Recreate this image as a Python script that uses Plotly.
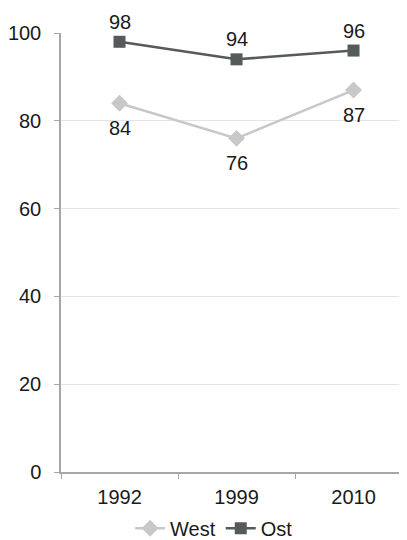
import plotly.graph_objects as go

years = ["1992", "1999", "2010"]
west = [84, 76, 87]
ost = [98, 94, 96]

FONT = "Liberation Sans, Arial, sans-serif"
FS = 20
LABEL_COLOR = "#1a1a1a"

fig = go.Figure()
fig.add_trace(go.Scatter(
    x=years, y=west, name="West", mode="lines+markers",
    line=dict(color="#c8c8c8", width=2.5),
    marker=dict(symbol="diamond", size=13, color="#c8c8c8"),
    cliponaxis=False,
))
fig.add_trace(go.Scatter(
    x=years, y=ost, name="Ost", mode="lines+markers",
    line=dict(color="#555a5a", width=2.5),
    marker=dict(symbol="square", size=12, color="#555a5a"),
    cliponaxis=False,
))

# category index positions on the category axis
for i, v in enumerate(west):
    fig.add_annotation(x=i, y=v, text=str(v), showarrow=False, yshift=-25,
                       font=dict(size=FS, color=LABEL_COLOR, family=FONT))
for i, v in enumerate(ost):
    fig.add_annotation(x=i, y=v, text=str(v), showarrow=False, yshift=20,
                       font=dict(size=FS, color=LABEL_COLOR, family=FONT))

fig.update_layout(
    width=399, height=540,
    margin=dict(l=51, r=0, t=25, b=76),
    plot_bgcolor="white", paper_bgcolor="white",
    font=dict(family=FONT, size=FS, color=LABEL_COLOR),
    showlegend=True,
    legend=dict(orientation="h", x=0.4425, xanchor="center", y=-0.128, yanchor="middle",
                font=dict(size=FS), itemwidth=30, tracegroupgap=0,
                bgcolor="rgba(0,0,0,0)"),
    xaxis=dict(type="category", range=[-0.5, 2.457], showgrid=False,
               showline=True, linecolor="#a6a6a6", linewidth=1.5,
               ticks="outside", tickson="boundaries", ticklen=5, tickcolor="#a6a6a6",
               tickfont=dict(size=FS), ticklabelstandoff=6, fixedrange=True),
    yaxis=dict(range=[0, 100], tickvals=[0, 20, 40, 60, 80, 100],
               showgrid=True, gridcolor="#e4e4e4", gridwidth=1,
               showline=True, linecolor="#a6a6a6", linewidth=1.5,
               ticks="outside", ticklen=5, tickcolor="#a6a6a6",
               tickfont=dict(size=FS), ticklabelstandoff=9, zeroline=False),
)

fig.write_html("out.html")
